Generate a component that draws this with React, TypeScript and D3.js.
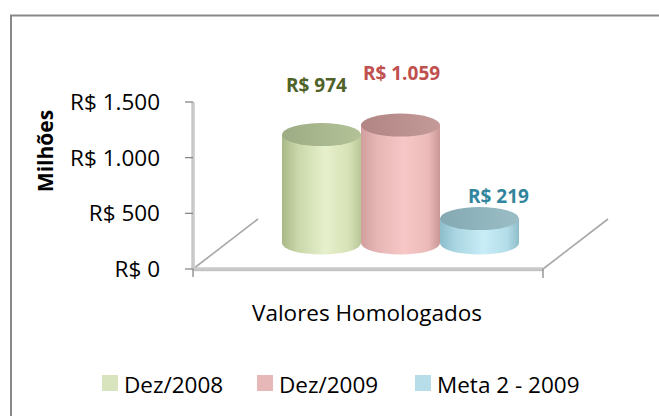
import React from "react";
import * as d3 from "d3";

// ---- data ----
const seriesNames = ["Dez/2008", "Dez/2009", "Meta 2 - 2009"];
const seriesValues = [974, 1059, 219];
const valueLabels = ["R$ 974", "R$ 1.059", "R$ 219"];
const categoryLabel = "Valores Homologados";
const yTickValues = [0, 500, 1000, 1500];
const yTickLabels = ["R$ 0", "R$ 500", "R$ 1.000", "R$ 1.500"];
const yAxisTitle = "Milhões";

// ---- styles ----
const legendColors = ["#d7e4bd", "#e6b9b8", "#b7dde8"];
const labelColors = ["#4f6228", "#c0504d", "#31859c"];
const sideStops = [
  ["#a9b886", "#c9d7a9", "#e6f0cc", "#d6e2b6", "#b9c798"],
  ["#cf9e9d", "#e6b6b5", "#f6c7c6", "#ebbab9", "#c99796"],
  ["#8dbdca", "#aad6e2", "#c8edf7", "#b3dde8", "#8ebdc9"],
];
const topStops = [
  ["#9dac84", "#b3c297"],
  ["#b08584", "#c49a99"],
  ["#84a9b2", "#9bbec6"],
];
const labelDx = [-5, 1, 19];
const labelDy = [-44, -46, -17];
const legendX = [102, 257, 415];

const W = 659;
const H = 416;
const FONT = "'Open Sans', 'Noto Sans', sans-serif";
const FS = 22.5;

export default function App() {
  const x0 = 193;
  const x1 = 543;
  const yBase = 269;
  const depth = [65, -50];
  const zMid = 0.5;

  const yScale = d3.scaleLinear().domain([0, 1500]).range([yBase, 102]);
  const xScale = d3
    .scaleBand<string>()
    .domain(seriesNames)
    .range([x0, x1])
    .paddingInner(0)
    .paddingOuter(0.715);

  const rx = xScale.bandwidth() / 2;
  const ry = 11.5;

  return (
    <svg
      width={W}
      height={H}
      style={{ position: "absolute", left: 0, top: 0, background: "#fff" }}
    >
      <defs>
        {seriesNames.map((s, i) => (
          <linearGradient key={"side" + i} id={"side" + i} x1="0" x2="1" y1="0" y2="0">
            {sideStops[i].map((c, j) => (
              <stop key={j} offset={[0, 0.2, 0.55, 0.85, 1][j]} stopColor={c} />
            ))}
          </linearGradient>
        ))}
        {seriesNames.map((s, i) => (
          <linearGradient key={"top" + i} id={"top" + i} x1="0" x2="1" y1="0" y2="0">
            <stop offset="0" stopColor={topStops[i][0]} />
            <stop offset="1" stopColor={topStops[i][1]} />
          </linearGradient>
        ))}
        <filter id="blur" x="-10%" y="-10%" width="120%" height="120%">
          <feGaussianBlur stdDeviation="0.6" />
        </filter>
      </defs>

      {/* chart border */}
      <rect x={11} y={15.5} width={W + 20} height={H + 20} fill="#fff" stroke="#888" strokeWidth={2} />

      {/* floor */}
      <line x1={x0} y1={yBase} x2={x0 + depth[0]} y2={yBase + depth[1]} stroke="#a8a8a8" strokeWidth={1.6} />
      <line x1={x1} y1={yBase} x2={x1 + depth[0]} y2={yBase + depth[1]} stroke="#a8a8a8" strokeWidth={1.6} />
      <line x1={x0} y1={yBase} x2={x1} y2={yBase} stroke="#c9c9c9" strokeWidth={3.5} />
      <line x1={x0} y1={yBase + 1.7} x2={x1} y2={yBase + 1.7} stroke="#b5b5b5" strokeWidth={0.8} />
      <line x1={x1} y1={yBase} x2={x1} y2={yBase + 9} stroke="#7f7f7f" strokeWidth={1.2} />
      <line x1={x0} y1={yBase} x2={x0} y2={yBase + 8} stroke="#7f7f7f" strokeWidth={1.2} />

      {/* y axis */}
      <line x1={x0} y1={yScale(1500)} x2={x0} y2={yBase} stroke="#c9c9c9" strokeWidth={3.5} />
      {yTickValues.map((v, i) => (
        <g key={v}>
          <line x1={x0 - 8} x2={x0} y1={yScale(v)} y2={yScale(v)} stroke="#7f7f7f" strokeWidth={1.2} />
          <text
            x={160}
            y={yScale(v)}
            dy="0.36em"
            textAnchor="end"
            fontFamily={FONT}
            fontSize={FS}
            fill="#000"
          >
            {yTickLabels[i]}
          </text>
        </g>
      ))}

      {/* cylinders */}
      {seriesNames.map((s, i) => {
        const cx = (xScale(s) as number) + rx + depth[0] * zMid;
        const cyBot = yBase + depth[1] * zMid - 1;
        const h = yBase - yScale(seriesValues[i]);
        const cyTop = cyBot - h;
        const side = `M${cx - rx},${cyTop} L${cx - rx},${cyBot} A${rx},${ry} 0 0 0 ${cx + rx},${cyBot} L${cx + rx},${cyTop} Z`;
        return (
          <g key={s}>
            <path d={side} fill={`url(#side${i})`} filter="url(#blur)" />
            <ellipse cx={cx} cy={cyTop} rx={rx} ry={ry} fill={`url(#top${i})`} filter="url(#blur)" />
          </g>
        );
      })}

      {/* value labels */}
      {seriesNames.map((s, i) => {
        const cx = (xScale(s) as number) + rx + depth[0] * zMid;
        const cyTop = yBase + depth[1] * zMid - (yBase - yScale(seriesValues[i]));
        return (
          <text
            key={"lab" + s}
            x={cx + labelDx[i]}
            y={cyTop + labelDy[i]}
            textAnchor="middle"
            fontFamily={FONT}
            fontWeight="bold"
            fontSize={19}
            fill={labelColors[i]}
          >
            {valueLabels[i]}
          </text>
        );
      })}

      {/* category label */}
      <text x={367} y={321} textAnchor="middle" fontFamily={FONT} fontSize={FS} fill="#000">
        {categoryLabel}
      </text>

      {/* y axis title */}
      <text
        transform="translate(53,151) rotate(-90)"
        textAnchor="middle"
        fontFamily={FONT}
        fontWeight="bold"
        fontSize={21}
        fill="#000"
      >
        {yAxisTitle}
      </text>

      {/* legend */}
      {seriesNames.map((s, i) => (
        <g key={"leg" + s} transform={`translate(${legendX[i]},375)`}>
          <rect x={0} y={0} width={16} height={16} fill={legendColors[i]} />
          <text x={22} y={17.5} fontFamily={FONT} fontSize={FS} fill="#000">
            {s}
          </text>
        </g>
      ))}
    </svg>
  );
}
